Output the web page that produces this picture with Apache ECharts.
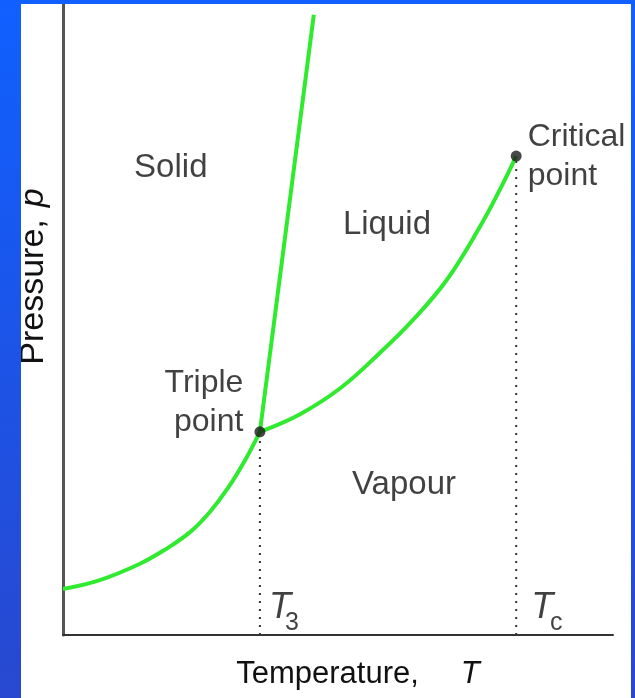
<!DOCTYPE html>
<html><head><meta charset="utf-8">
<script src="https://cdn.jsdelivr.net/npm/echarts@6/dist/echarts.min.js"></script>
<style>
html,body{margin:0;padding:0;width:635px;height:698px;overflow:hidden;background:linear-gradient(to bottom,#1060ff,#2848d0);}
#chart{position:absolute;left:21px;top:4px;width:610px;height:694px;background:#fff;overflow:hidden;}
</style></head><body><div id="chart"></div>
<script>
// Phase boundary curves (temperature T, pressure p, arbitrary units 0-100)
const sublimationT = [0, 6.7, 14.0, 18.5, 23.1, 26.7, 30.0, 33.1, 35.8];
const sublimationP = [7.3, 8.7, 11.3, 13.5, 16.3, 19.5, 23.3, 27.7, 32.2];
const vaporizationT = [35.8, 43.1, 50.4, 57.6, 63.6, 69.8, 75.8, 79.5, 82.4];
const vaporizationP = [32.2, 35.0, 39.1, 44.7, 49.9, 56.3, 64.7, 70.7, 75.9];
const fusionT = [35.8, 45.6];
const fusionP = [32.2, 98.3];
// Special points
const specialPointNames = ['Triple\npoint', 'Critical\npoint'];
const specialPointT = [35.8, 82.4];
const specialPointP = [32.2, 75.9];
// Temperature markers (T subscript labels)
const tempMarkLabels = ['3', 'c'];
// Phase region labels
const phaseNames = ['Solid', 'Liquid', 'Vapour'];
const phaseT = [19.6, 58.9, 62.0];
const phaseP = [74.0, 65.0, 23.8];

const FONT = 'Liberation Sans, Arial, sans-serif';
const TXT = '#111';
const GREEN = '#30ea30';

const zip = (a, b) => a.map((v, i) => [v, b[i]]);
const curve = (name, xs, ys, smooth) => ({
  name, type: 'line', data: zip(xs, ys), smooth, symbol: 'none', z: 3,
  lineStyle: { color: GREEN, width: 4 }, silent: true
});

const guideSeries = specialPointT.map((t, i) => ({
  type: 'line', data: [[t, 0], [t, specialPointP[i]]], symbol: 'none', z: 2, silent: true,
  lineStyle: { color: '#333', width: 2, type: [2, 6] }
}));

const labelOffsets = [
  { position: 'left', distance: 11, align: 'right', offset: [0, -29] },
  { position: 'right', distance: 6, align: 'left', offset: [0, 1] }
];
const tLetterOffsets = [[20, -27], [26, -27]];
const tSubOffsets = [[32, -12], [40, -12]];

const option = {
  backgroundColor: '#fff',
  animation: false,
  grid: { left: 42, right: 18, top: 0, bottom: 63, outerBoundsMode: 'none', containLabel: false },
  xAxis: {
    type: 'value', min: 0, max: 100,
    axisLine: { show: true, onZero: false, lineStyle: { color: '#333', width: 2 } },
    axisTick: { show: false }, axisLabel: { show: false }, splitLine: { show: false },
    name: '{n|Temperature,}{i|T}', nameLocation: 'middle', nameGap: 24,
    nameTextStyle: {
      padding: [0, 0, 0, 40],
      rich: {
        n: { fontSize: 31, color: TXT, fontFamily: FONT },
        i: { fontSize: 31, color: TXT, fontFamily: FONT, fontStyle: 'italic', padding: [0, 0, 0, 42] }
      }
    }
  },
  yAxis: {
    type: 'value', min: 0, max: 100,
    axisLine: { show: true, lineStyle: { color: '#555', width: 3 } },
    axisTick: { show: false }, axisLabel: { show: false }, splitLine: { show: false },
    name: '{n|Pressure,}{i|p}', nameLocation: 'middle', nameGap: 12,
    nameTextStyle: {
      padding: [0, 0, 0, 86],
      rich: {
        n: { fontSize: 34, color: TXT, fontFamily: FONT },
        i: { fontSize: 34, color: TXT, fontFamily: FONT, fontStyle: 'italic', padding: [0, 0, 0, 12] }
      }
    }
  },
  series: [
    ...guideSeries,
    curve('Sublimation', sublimationT, sublimationP, 0.4),
    curve('Vaporization', vaporizationT, vaporizationP, 0.4),
    curve('Fusion', fusionT, fusionP, false),
    {
      name: 'Special points', type: 'scatter', z: 5, symbolSize: 11, silent: true,
      itemStyle: { color: '#1a1a1a' },
      data: specialPointT.map((t, i) => ({
        value: [t, specialPointP[i]], name: specialPointNames[i],
        label: Object.assign({ show: true, formatter: '{b}', fontSize: 32, lineHeight: 39, color: TXT, fontFamily: FONT }, labelOffsets[i])
      }))
    },
    {
      name: 'Phases', type: 'scatter', z: 4, symbolSize: 0, silent: true,
      data: phaseT.map((t, i) => ({ value: [t, phaseP[i]], name: phaseNames[i] })),
      label: { show: true, position: 'inside', formatter: '{b}', fontSize: 33, color: TXT, fontFamily: FONT }
    },
    {
      name: 'T letters', type: 'scatter', z: 4, symbolSize: 0, silent: true, clip: false,
      data: specialPointT.map((t, i) => ({ value: [t, 0], label: { offset: tLetterOffsets[i] } })),
      label: { show: true, position: 'inside', formatter: 'T', fontSize: 36, fontStyle: 'italic', color: TXT, fontFamily: FONT }
    },
    {
      name: 'T subscripts', type: 'scatter', z: 4, symbolSize: 0, silent: true, clip: false,
      data: specialPointT.map((t, i) => ({ value: [t, 0], name: tempMarkLabels[i], label: { offset: tSubOffsets[i] } })),
      label: { show: true, position: 'inside', formatter: '{b}', fontSize: 25, color: TXT, fontFamily: FONT }
    }
  ]
};
const chart = echarts.init(document.getElementById('chart'), null, { renderer: 'canvas' });
chart.setOption(option);
</script></body></html>
